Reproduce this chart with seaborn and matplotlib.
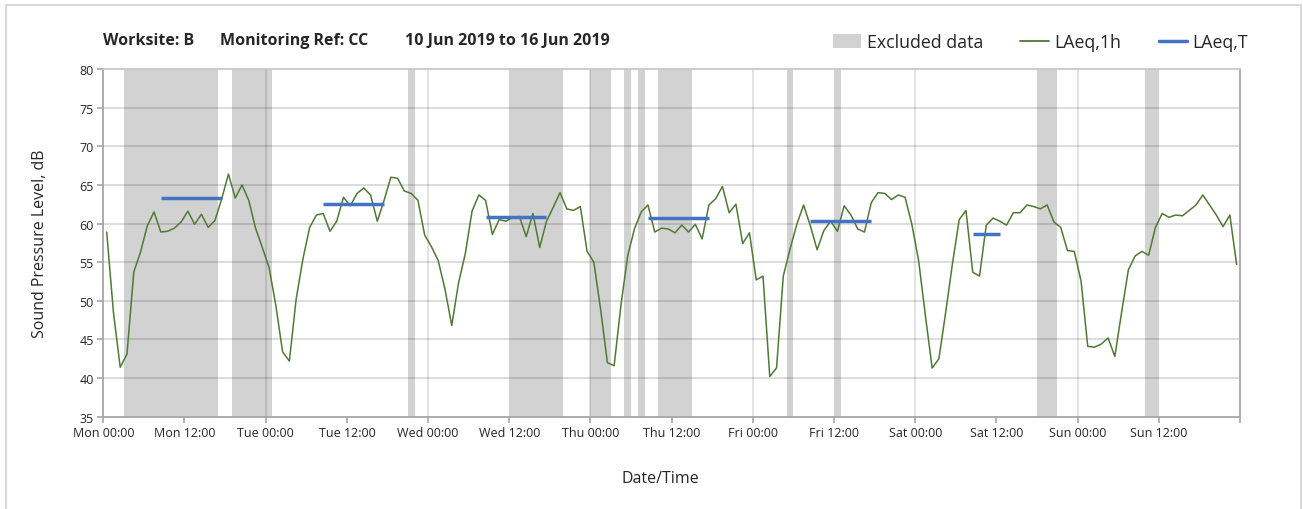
import pandas as pd
import seaborn as sns
import matplotlib.pyplot as plt
from matplotlib.patches import Patch, Rectangle
from matplotlib.lines import Line2D

# hourly LAeq,1h values, one list per day (Mon..Sun)
mon = [58.9, 48.5, 41.4, 43.1, 53.7, 56.3, 59.7, 61.5, 58.9, 59.0, 59.4, 60.2,
       61.6, 59.9, 61.2, 59.5, 60.4, 63.2, 66.4, 63.3, 65.0, 63.0, 59.4, 56.9]
tue = [54.3, 49.4, 43.4, 42.2, 50.2, 55.4, 59.5, 61.1, 61.3, 59.0, 60.3, 63.4,
       62.3, 63.9, 64.6, 63.7, 60.3, 63.0, 66.0, 65.85, 64.2, 63.9, 63.0, 58.5]
wed = [57.0, 55.2, 51.5, 46.8, 52.3, 56.1, 61.6, 63.7, 63.0, 58.6, 60.5, 60.3,
       60.8, 60.9, 58.3, 61.3, 56.9, 60.3, 62.1, 64.0, 61.9, 61.7, 62.2, 56.4]
thu = [55.0, 48.9, 42.0, 41.6, 49.4, 55.8, 59.3, 61.5, 62.4, 58.9, 59.4, 59.3,
       58.8, 59.8, 58.9, 59.9, 58.0, 62.4, 63.2, 64.8, 61.4, 62.5, 57.4, 58.8]
fri = [52.7, 53.2, 40.2, 41.3, 53.2, 56.7, 59.9, 62.4, 59.7, 56.6, 59.1, 60.3,
       59.0, 62.3, 61.1, 59.3, 58.9, 62.7, 64.0, 63.9, 63.1, 63.7, 63.4, 59.9]
sat = [55.2, 48.1, 41.3, 42.5, 48.5, 54.8, 60.5, 61.7, 53.7, 53.2, 59.8, 60.7,
       60.3, 59.8, 61.4, 61.4, 62.4, 62.2, 61.9, 62.4, 60.2, 59.5, 56.5, 56.4]
sun = [52.6, 44.1, 44.0, 44.4, 45.2, 42.8, 48.5, 54.0, 55.8, 56.4, 55.9, 59.5,
       61.3, 60.8, 61.1, 61.0, 61.7, 62.4, 63.7, 62.4, 61.1, 59.6, 61.1, 54.7]
laeq_1h = mon + tue + wed + thu + fri + sat + sun

# excluded periods, hours from Mon 00:00
excl_start = [3, 19, 45, 60, 72, 77, 79, 82, 101, 108, 138, 154]
excl_end = [17, 25, 46, 68, 75, 78, 80, 87, 102, 109, 141, 156]

# LAeq,T periods, hours from Mon 00:00
laeqt_start = [8.5, 32.5, 56.5, 80.5, 104.5, 128.5]
laeqt_end = [17.5, 41.5, 65.5, 89.5, 113.5, 132.5]
laeqt_val = [63.3, 62.5, 60.9, 60.7, 60.3, 58.7]

t0 = pd.Timestamp("2019-06-10 00:00")
hrs = lambda h: t0 + pd.Timedelta(hours=h)

df = pd.DataFrame({"time": pd.date_range("2019-06-10 00:30", periods=len(laeq_1h), freq="h"),
                   "LAeq": laeq_1h})

sns.set_theme(style="white")
plt.rcParams["font.family"] = ["Open Sans", "DejaVu Sans"]

GREEN = "#4f7a34"
BLUE = "#4472c4"
BAND = "#a6a6a6"

fig = plt.figure(figsize=(13.03, 5.10), dpi=100)
ax = fig.add_axes([103.3 / 1303, 1 - 417.7 / 510, (1240 - 103.3) / 1303, 347.7 / 510])

for a, b in zip(excl_start, excl_end):
    ax.axvspan(hrs(a), hrs(b), color=BAND, alpha=0.5, lw=0, zorder=1)

# gridlines
for y in range(40, 80, 5):
    ax.axhline(y, color="black", alpha=0.15, lw=1.3, zorder=2)
for d in range(1, 7):
    ax.axvline(hrs(24 * d), color="black", alpha=0.12, lw=1.3, zorder=2)

sns.lineplot(data=df, x="time", y="LAeq", color=GREEN, lw=1.1, ax=ax, zorder=4)
for a, b, v in zip(laeqt_start, laeqt_end, laeqt_val):
    ax.plot([hrs(a), hrs(b)], [v, v], color=BLUE, lw=2.5, solid_capstyle="butt", zorder=5)

ax.set_xlim(hrs(0), hrs(168))
ax.set_ylim(35, 80)
ax.set_yticks(range(35, 81, 5))
ticks = [hrs(h) for h in range(0, 169, 12)]
ax.set_xticks(ticks)
ax.set_xticklabels([t.strftime("%a %H:%M") for t in ticks[:-1]] + [""])
ax.tick_params(axis="both", labelsize=9, colors="#a6a6a6", labelcolor="#262626",
               direction="out", length=4, width=1.2, pad=3, bottom=True, left=True)

for s in ["left", "bottom", "right"]:
    ax.spines[s].set_color("#a6a6a6")
    ax.spines[s].set_linewidth(1.3)
ax.spines["top"].set_color("#c8c8c8")
ax.spines["top"].set_linewidth(1.3)

ax.set_ylabel("Sound Pressure Level, dB", fontsize=11.5, color="#262626")
ax.set_xlabel("Date/Time", fontsize=11.5, color="#262626")
ax.yaxis.set_label_coords(-0.049, 0.5)
ax.xaxis.set_label_coords(0.49, -0.152)

ty = 1 - 41 / 510
fig.text(103 / 1303, ty, "Worksite: B", fontsize=11.5, fontweight="bold", va="center")
fig.text(220 / 1303, ty, "Monitoring Ref: CC", fontsize=11.5, fontweight="bold", va="center")
fig.text(405 / 1303, ty, "10 Jun 2019 to 16 Jun 2019", fontsize=11.5, fontweight="bold", va="center")

handles = [Patch(facecolor="#d2d2d2", edgecolor="none"),
           Line2D([], [], color=GREEN, lw=1.3),
           Line2D([], [], color=BLUE, lw=2.5)]
fig.legend(handles, ["Excluded data", "LAeq,1h", "LAeq,T"], ncol=3, frameon=False,
           loc="center right", bbox_to_anchor=(1264 / 1303, 1 - 43 / 510),
           fontsize=12.8, handlelength=1.6, handleheight=0.8, handletextpad=0.3,
           columnspacing=2.1, labelcolor="#262626")

fig.patches.append(Rectangle((6 / 1303, -0.05), 1295 / 1303, 1.05 - 6 / 510,
                             transform=fig.transFigure, fill=False,
                             edgecolor="#d9d9d9", lw=1.5))

fig.savefig("out.png", dpi=100)
